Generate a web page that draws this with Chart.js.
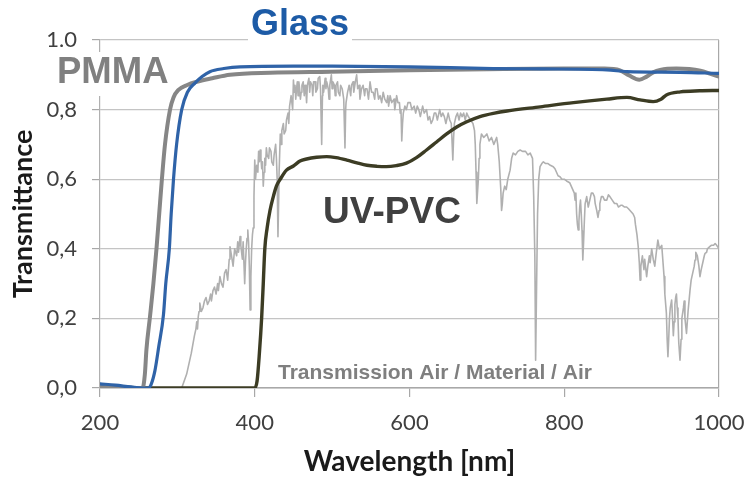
<!DOCTYPE html>
<html>
<head>
<meta charset="utf-8">
<script src="https://cdn.jsdelivr.net/npm/chart.js@4"></script>
<style>
  html, body { margin: 0; padding: 0; background: #ffffff; }
  #wrap { width: 748px; height: 477px; position: relative; }
</style>
</head>
<body>
<div id="wrap"><canvas id="c" width="748" height="477"></canvas></div>
<script>
// ---- data ----
const yTickLabels = ['0,0', '0,2', '0,4', '0,6', '0,8', '1.0'];
const xTickValues = [200, 400, 600, 800, 1000];

const glassNm = [200, 220, 240, 255, 262, 266, 271, 276, 282, 285, 289.6, 292, 295, 299, 305.6, 313, 323, 332, 342, 360, 381, 450, 500, 600, 708, 770, 855, 881, 950, 1000];
const glassT  = [0.012, 0.008, 0.003, 0.0, 0.0, 0.01, 0.05, 0.12, 0.21, 0.30, 0.40, 0.50, 0.60, 0.70, 0.80, 0.85, 0.877, 0.895, 0.909, 0.918, 0.923, 0.925, 0.925, 0.923, 0.918, 0.917, 0.914, 0.909, 0.907, 0.904];

const pmmaNm = [200, 230, 250, 255, 258, 260, 264.6, 269, 273, 276.5, 280, 284, 290.5, 295, 301, 312, 325, 345, 368, 420, 497, 600, 700, 800, 852, 872, 884, 897, 906, 915, 924, 945, 976, 990, 1000];
const pmmaT  = [0.006, 0.003, 0.0, 0.0, 0.04, 0.11, 0.205, 0.30, 0.40, 0.50, 0.60, 0.70, 0.80, 0.835, 0.856, 0.87, 0.88, 0.89, 0.90, 0.906, 0.909, 0.913, 0.916, 0.918, 0.918, 0.913, 0.898, 0.886, 0.894, 0.907, 0.914, 0.918, 0.912, 0.902, 0.895];

const pvcNm = [200, 400, 403, 406, 409, 411, 413, 416, 419.7, 424, 428, 433, 441, 450, 458.5, 467, 480, 493, 505, 519, 532, 545, 558, 570, 583, 596, 609, 622, 635, 648, 661, 674, 691, 710, 726, 769, 812, 855, 881, 898, 915, 925, 932, 950, 975, 1000];
const pvcT  = [0.0, 0.0, 0.02, 0.10, 0.205, 0.30, 0.40, 0.46, 0.51, 0.55, 0.58, 0.60, 0.626, 0.638, 0.652, 0.658, 0.663, 0.665, 0.662, 0.655, 0.647, 0.64, 0.637, 0.636, 0.639, 0.646, 0.662, 0.684, 0.707, 0.73, 0.75, 0.765, 0.78, 0.79, 0.796, 0.808, 0.82, 0.83, 0.835, 0.828, 0.823, 0.83, 0.842, 0.851, 0.854, 0.855];

// solar spectrum transmission (wavelength nm, value) pairs
const solarSpectrum = [
  [300,0],[305.6,0],[312,0.04],[318,0.10],[322,0.15],[324,0.17],[325,0.19],[326,0.17],[327,0.205],[328,0.22],[329,0.244],[331,0.22],[333,0.23],[335,0.25],[337,0.26],[339,0.24],[341,0.25],[343,0.27],[344,0.25],[346,0.28],[348,0.29],[350,0.27],[352,0.30],[353,0.28],[355,0.32],[357,0.30],[359,0.29],[361,0.33],[363,0.34],[365,0.31],[367,0.37],[368,0.406],[370,0.38],[372,0.35],[374,0.40],[376.6,0.38],[378,0.42],[379,0.39],[381,0.435],[382,0.41],[384,0.37],[385,0.42],[387,0.30],[388,0.36],[389,0.40],[390,0.43],[391,0.454],[392,0.42],[393,0.35],[394,0.224],[395,0.32],[396,0.40],[397,0.44],[398,0.46],[399,0.55],
  [400,0.655],[401,0.60],[402.5,0.64],[404,0.62],[405,0.68],[406,0.65],[407,0.684],[408,0.66],[409,0.63],[410,0.65],[411,0.58],[412,0.62],[413,0.66],[414,0.64],[415,0.69],[416,0.67],[418,0.66],[419,0.69],[421,0.68],[422,0.65],[424,0.64],[425,0.67],[427,0.70],[428,0.66],[429,0.60],[430,0.435],[431,0.55],[431.5,0.62],[433,0.73],[434,0.70],[435,0.74],[437,0.76],[438,0.73],[440,0.74],[441,0.77],[443,0.79],[444,0.76],
  [445,0.81],[447,0.84],[449,0.80],[450,0.885],[451,0.85],[452,0.87],[453,0.83],[454,0.86],[455,0.88],[456,0.84],[457,0.88],[458,0.86],[459,0.83],[460,0.85],[461,0.87],[462.6,0.88],[464,0.84],[465,0.87],[466,0.86],[467,0.82],[468,0.87],[470,0.89],[471,0.85],[472,0.88],[474,0.87],[475,0.84],[476,0.88],[478,0.88],[479,0.85],[481,0.86],[482,0.89],[484,0.895],[485,0.86],[486.5,0.70],[487.5,0.84],[488,0.87],[489,0.85],[491,0.89],[492,0.86],[493,0.88],[495,0.86],[496,0.83],[497,0.87],[499,0.90],[500,0.86],[501,0.88],[503,0.87],[504,0.84],[505,0.87],[507,0.88],[508,0.85],[510,0.84],[511,0.87],[513,0.86],[515,0.83],[516.6,0.69],[517.5,0.80],[518,0.82],[520,0.85],[522,0.87],[524,0.84],[525,0.87],[527,0.88],[528,0.85],[530,0.88],[531.7,0.90],[533,0.86],[535,0.87],[536,0.83],[538,0.86],[540,0.87],[542,0.84],[543,0.86],[545,0.86],[547,0.83],[549,0.88],[551,0.85],[553,0.85],[555,0.83],[556,0.86],[558,0.86],[560,0.83],[562,0.84],[564,0.82],[566,0.85],[568,0.83],[570.5,0.82],[572,0.84],[573,0.81],[575,0.84],[577,0.82],[580,0.83],[581,0.80],[583.4,0.84],[585,0.82],[587,0.82],[588,0.79],[589,0.80],[590,0.71],[591,0.76],[592,0.79],[594,0.81],[596,0.80],[598,0.82],
  [601,0.82],[603,0.80],[606,0.81],[608,0.79],[610,0.81],[612,0.80],[614,0.78],[617,0.81],[619,0.79],[622,0.80],[624,0.77],[626,0.78],[628,0.76],[630,0.77],[632,0.79],[634,0.79],[636,0.77],[639,0.80],[641,0.78],[643,0.79],[645,0.78],[647,0.76],[650,0.79],[652,0.77],[654,0.76],[656,0.655],[657,0.72],[658,0.76],[660,0.78],[662,0.79],[664,0.77],[666,0.79],[668,0.78],[670,0.79],[672,0.77],[674,0.79],[676,0.78],[679,0.77],[682,0.76],[684,0.74],[685,0.70],[686,0.62],[687,0.53],[689,0.60],[690,0.66],[691,0.70],[693,0.73],[696,0.72],
  [700,0.73],[703,0.71],[706,0.72],[709,0.70],[712.6,0.72],[714,0.70],[716,0.65],[718,0.57],[719,0.51],[720,0.53],[721,0.56],[723,0.58],[725,0.57],[727,0.60],[730,0.626],[732,0.66],[734,0.675],[737,0.67],[740,0.68],[743,0.684],[746,0.68],[750,0.68],[753,0.67],[756,0.675],[759,0.66],[760.5,0.55],[762,0.377],[763,0.08],[764,0.25],[765.5,0.50],[767,0.60],[768.7,0.636],[771,0.645],[773,0.65],[776,0.645],[779,0.645],[782,0.64],[785.8,0.636],[788,0.63],[790,0.62],[792,0.61],[794.5,0.607],[797,0.60],
  [800,0.60],[803,0.595],[807,0.59],[809,0.58],[811,0.57],[813,0.56],[814,0.54],[815,0.56],[816,0.50],[817,0.47],[818,0.454],[819,0.48],[820,0.52],[821,0.54],[822,0.50],[823,0.45],[824,0.368],[825,0.42],[826,0.48],[827,0.53],[829,0.55],[831,0.52],[833,0.54],[835,0.56],[837,0.56],[839,0.55],[840,0.53],[842,0.51],[843.6,0.49],[845,0.51],[846,0.53],[848,0.55],[850,0.55],[852,0.54],[855,0.54],[857,0.555],[859,0.55],[862,0.54],[865,0.53],[868,0.53],[870,0.52],[873,0.525],[875,0.525],[878,0.52],[880.6,0.52],[883,0.515],[885,0.51],[887,0.505],[889,0.50],[891,0.49],[892,0.47],[894,0.44],[895.6,0.406],[897,0.36],[898,0.31],[899,0.35],
  [901,0.38],[902,0.36],[903,0.34],[904,0.37],[906.5,0.32],[908,0.35],[910,0.38],[911,0.36],[913,0.40],[915,0.37],[917,0.35],[919,0.39],[921,0.425],[923,0.40],[926,0.41],[927,0.38],[929,0.32],[930,0.27],[932,0.215],[933,0.14],[934,0.09],[935,0.14],[936,0.20],[937,0.23],[938.8,0.253],[940,0.20],[941,0.15],[942,0.19],[943,0.24],[944,0.26],[945,0.27],[946,0.23],[947,0.20],[948,0.13],[949.6,0.08],[951,0.14],[952,0.20],[954,0.23],[955,0.25],[956,0.20],[958,0.157],[960,0.22],[962.5,0.28],[964,0.31],[966,0.33],[968,0.35],[969,0.368],[970,0.39],[972,0.38],[974,0.35],[975.4,0.32],[977,0.34],[979,0.36],[981,0.38],[982,0.387],[984,0.39],[985,0.40],[988,0.406],[990,0.41],[993,0.41],[995,0.415],[997,0.41],[1000,0.40]
];

const seriesNames = ['Glass', 'PMMA', 'UV-PVC', 'Transmission Air / Material / Air'];

// ---- build chart ----
function pts(xs, ys) { return xs.map((x, i) => ({ x: x, y: ys[i] })); }

const annotations = {
  id: 'annotations',
  afterDraw(chart) {
    const ctx = chart.ctx;
    ctx.save();
    // white boxes behind labels (they break the frame lines)
    ctx.fillStyle = '#ffffff';
    ctx.fillRect(248, 30, 104, 14);
    ctx.fillRect(52, 52, 120, 44);
    ctx.textBaseline = 'alphabetic';
    ctx.textAlign = 'center';
    ctx.font = 'bold 36px "Liberation Sans", Arial, sans-serif';
    ctx.fillStyle = '#1d5ba6';
    ctx.fillText(seriesNames[0], 300, 35);
    ctx.textAlign = 'left';
    ctx.font = 'bold 36.5px "Liberation Sans", Arial, sans-serif';
    ctx.fillStyle = '#808080';
    ctx.fillText(seriesNames[1], 57, 83);
    ctx.textAlign = 'center';
    ctx.font = 'bold 37px "Liberation Sans", Arial, sans-serif';
    ctx.fillStyle = '#404040';
    ctx.fillText(seriesNames[2], 392, 223);
    ctx.textAlign = 'left';
    ctx.font = 'bold 21px "Liberation Sans", Arial, sans-serif';
    ctx.fillStyle = '#7f7f7f';
    ctx.fillText(seriesNames[3], 278, 379);
    ctx.restore();
  }
};

const gridGray = '#c4c4c4';
const tickFont = { family: 'Lato, "Open Sans", sans-serif', size: 22 };

new Chart(document.getElementById('c'), {
  type: 'line',
  data: {
    datasets: [
      { label: seriesNames[0], data: pts(glassNm, glassT), borderColor: '#2f63a8', borderWidth: 3.2, cubicInterpolationMode: 'monotone', order: 1 },
      { label: seriesNames[1], data: pts(pmmaNm, pmmaT), borderColor: '#868686', borderWidth: 4, cubicInterpolationMode: 'monotone', order: 2 },
      { label: seriesNames[2], data: pts(pvcNm, pvcT), borderColor: '#3c3c24', borderWidth: 3.4, cubicInterpolationMode: 'monotone', order: 3 },
      { label: 'Solar spectrum', data: solarSpectrum.map(p => ({ x: p[0], y: p[1] })), borderColor: '#b0b0b0', borderWidth: 1.6, tension: 0, order: 4 }
    ]
  },
  options: {
    responsive: false,
    animation: false,
    devicePixelRatio: 1,
    elements: { point: { radius: 0, hoverRadius: 0 }, line: { borderJoinStyle: 'round', borderCapStyle: 'round' } },
    layout: { padding: { top: 40, right: 29, bottom: 0, left: 0 } },
    plugins: { legend: { display: false }, tooltip: { enabled: false }, title: { display: false } },
    scales: {
      x: {
        type: 'linear', min: 200, max: 1000,
        afterFit(scale) { scale.height = 89; scale.paddingLeft = 0; scale.paddingRight = 0; },
        afterBuildTicks(scale) { scale.ticks = xTickValues.map(v => ({ value: v })); },
        ticks: { color: '#404040', font: tickFont, padding: 13, maxRotation: 0, autoSkip: false,
          callback: (v) => String(v) },
        grid: {
          color: (c) => (c.tick && c.tick.value === 1000) ? '#a8a8a8' : 'rgba(0,0,0,0)',
          tickColor: '#a8a8a8', tickLength: 9, lineWidth: 1.2
        },
        border: { display: true, color: '#a8a8a8', width: 1.4 },
        title: { display: true, text: 'Wavelength [nm]', color: '#1a1a1a', font: { family: 'Lato, "Open Sans", sans-serif', size: 28, weight: 'bold', lineHeight: 1 }, padding: { top: 1, bottom: 1 } }
      },
      y: {
        type: 'linear', min: 0, max: 1,
        afterFit(scale) { scale.width = 100; scale.paddingTop = 0; scale.paddingBottom = 0; },
        ticks: { stepSize: 0.2, color: '#404040', font: tickFont, padding: 15,
          callback: (v) => yTickLabels[Math.round(v * 5)] },
        grid: { color: gridGray, tickColor: '#a8a8a8', tickLength: 8, lineWidth: 1.2 },
        border: { display: true, color: '#b0b0b0', width: 1.2 },
        title: { display: true, text: 'Transmittance', color: '#1a1a1a', font: { family: 'Lato, "Open Sans", sans-serif', size: 27, weight: 'bold', lineHeight: 1 }, padding: { top: 10, bottom: 10 } }
      }
    }
  },
  plugins: [annotations]
});
</script>
</body>
</html>
